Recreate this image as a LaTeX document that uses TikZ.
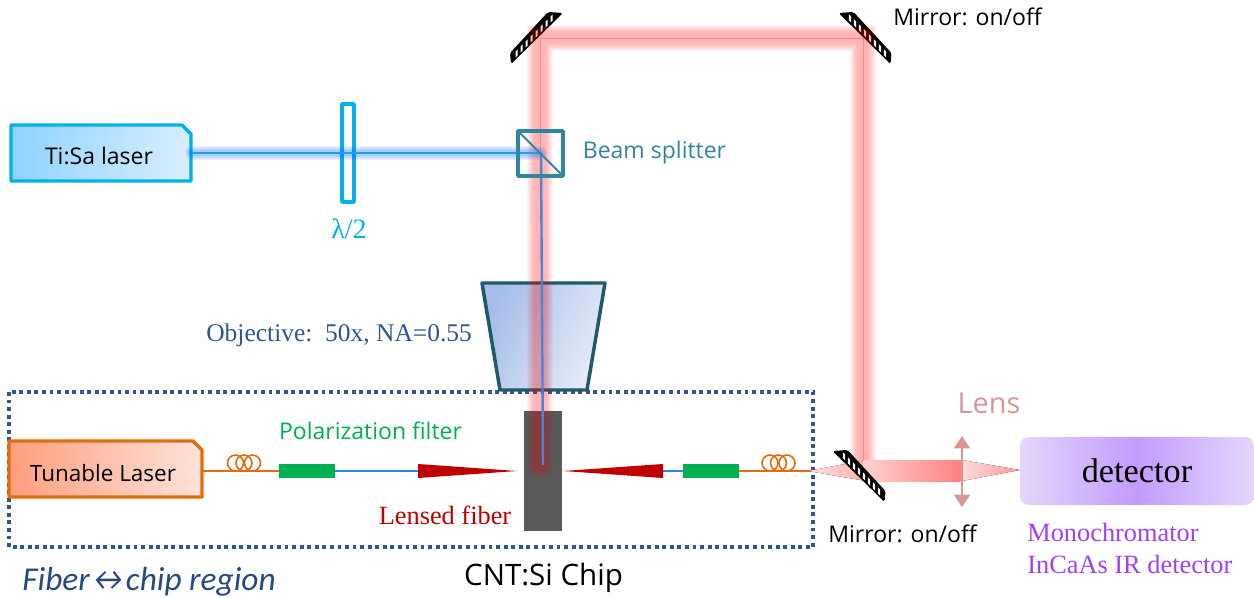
\documentclass[tikz,border=0pt]{standalone}
\usepackage{fontspec}
\setmainfont{Liberation Serif}
\setsansfont{Open Sans}
\newfontfamily\calibri{Carlito}
\usetikzlibrary{arrows.meta}
\definecolor{skyline}{HTML}{00B0F0}
\definecolor{skylow}{HTML}{8FD3FE}
\definecolor{skyhigh}{HTML}{D9EEFE}
\definecolor{teal}{HTML}{31859C}
\definecolor{navy}{HTML}{2F5597}
\definecolor{objline}{HTML}{215968}
\definecolor{objlow}{HTML}{A5BDE8}
\definecolor{objhigh}{HTML}{E6ECF8}
\definecolor{fiberor}{HTML}{E46C0A}
\definecolor{laserlow}{HTML}{FF9E7E}
\definecolor{laserhigh}{HTML}{FFE3DB}
\definecolor{filtergr}{HTML}{00B050}
\definecolor{lensred}{HTML}{C00000}
\definecolor{lenspink}{HTML}{D99694}
\definecolor{purpletxt}{HTML}{A040FF}
\definecolor{detlow}{HTML}{E4D6FB}
\definecolor{dethigh}{HTML}{C39BFD}
\definecolor{chipgray}{HTML}{595959}
\definecolor{beamblue}{HTML}{4A86D8}
\definecolor{fiberblue}{HTML}{2F7FEF}
\tikzset{
    px/.style={line width=#1*0.567pt},
    sanslabel/.style={font=\sffamily\fontsize{13.1}{15}\selectfont, inner sep=0pt},
    seriflabel/.style={font=\fontsize{15}{17}\selectfont, inner sep=0pt},
    laserbox/.style={px=3.5, line join=round},
    filterbox/.style={fill=filtergr, minimum width=#1, minimum height=14*0.567pt, inner sep=0pt},
    coil/.style={draw=fiberor, px=1.6},
}
\newcommand{\mirrorpic}[3]{
    \begin{scope}[shift={(#1,#2)}, xscale=#3]
        \fill[black, rounded corners=1pt] (-26,15) -- (-25,26) -- (27,-25) -- (12,-26) -- cycle;
        \foreach \k in {0,...,7} {
            \fill[white] (-20.5+5*\k,13.5-5*\k) -- +(2.2,-2.2) -- +(2.2,3.8) -- +(0,6) -- cycle;
        }
    \end{scope}
}
\newcommand{\beamglow}[4]{
    \foreach \w in {#3} {
        \draw[#2, px=\w, opacity=#4, line cap=round] #1;
    }
}
\begin{document}
\begin{tikzpicture}[>=Stealth, x=0.02cm, y=-0.02cm]
    \useasboundingbox (0,0) rectangle (1254,598);
    \draw[navy, px=3.5, dash pattern=on 2.2pt off 2.1pt] (9,392) rectangle (813,547);

    \path[draw=objline, px=3.5, line join=round, left color=objlow, right color=objhigh, shading angle=65]
        (482,283) -- (605,283) -- (587,390) -- (500,390) -- cycle;

    \node[fill=chipgray, minimum width=38*0.567pt, minimum height=120*0.567pt, inner sep=0pt] (chip) at (543,471) {};

    \path[draw=skyline, laserbox, left color=skylow, right color=skyhigh]
        (11,125) -- (182,125) -- (191,134) -- (191,181) -- (11,181) -- cycle;
    \node[sanslabel] (tisa) at (99,156) {Ti:Sa laser};
    \coordinate (tisaout) at (192,153);
    \draw[skyline, px=3.5, fill=white, line join=round] (342,104) rectangle (354,202);
    \node[seriflabel, font=\fontsize{16}{18}\selectfont, skyline] (plate) at (349,229) {λ/2};

    \path[draw=fiberor, laserbox, left color=laserlow, right color=laserhigh]
        (9,441) -- (193,441) -- (202,450) -- (202,497) -- (9,497) -- cycle;
    \node[sanslabel, font=\sffamily\fontsize{12.8}{15}\selectfont] (tunable) at (103,473) {Tunable Laser};
    \coordinate (tunableout) at (203,471);

    \node[filterbox=56*0.567pt] (filterl) at (307,471) {};
    \node[filterbox=56*0.567pt] (filterr) at (711,471) {};
    \coordinate (tipl) at (517,471);
    \coordinate (tipr) at (563,471);
    \coordinate (basel) at (418,471);
    \coordinate (baser) at (663,471);
    \coordinate (fiberend) at (813,471);

    \draw[fiberor, px=1.8] (tunableout) -- (filterl.west);
    \draw[fiberor, px=1.8] (filterr.east) -- (fiberend);
    \draw[fiberblue, px=1.8] (filterl.east) -- (basel);
    \draw[fiberblue, px=1.8] (baser) -- (filterr.west);
    \foreach \cx in {235.5,244,252.5,770,778.5,787} {
        \draw[coil] (\cx,463) circle (8);
    }
    \fill[lensred] (418,464) -- (tipl) -- (418,478) -- cycle;
    \fill[lensred] (663,464) -- (tipr) -- (663,478) -- cycle;

    \mirrorpic{536}{38}{1}
    \mirrorpic{865.5}{38}{-1}

    \beamglow{(540,465) -- (540,38) -- (863,38) -- (863,465)}{red}{26,24,22,20,18,16,14,11}{0.045}
    \draw[lenspink, px=1] (540,153) -- (540,38) -- (863,38) -- (863,462);

    \beamglow{(192,153) -- (540,153)}{blue!60!cyan}{14,12,10,8,6}{0.08}
    \draw[skyline!60!beamblue, px=1.3] (tisaout) -- (540,153);
    \draw[beamblue, px=2.4] (541,153) -- (543,465);

    \draw[teal, px=3.5, line join=round] (518,131) rectangle (563,176);
    \draw[teal, px=1.8] (518,131) -- (563,176);
    \node[sanslabel, teal] (splitter) at (654.5,152.5) {Beam splitter};

    \fill[left color=red!12, right color=red!32] (808,471) -- (866,460) -- (866,481) -- cycle;
    \fill[left color=red!18, right color=red!50] (863,460) rectangle (962,481);
    \fill[left color=red!14, right color=red!40] (962,460) -- (1020,470) -- (962,481) -- cycle;
    \draw[lenspink, px=2.2, {Triangle[width=9pt,length=7pt]}-{Triangle[width=9pt,length=7pt]}] (962,436) -- (962,507);

    \mirrorpic{859.5}{476}{-1}

    \path[rounded corners=5pt, left color=detlow, right color=detlow, middle color=dethigh] (1020,437) rectangle (1254,505);
    \node[font=\fontsize{19.5}{22}\selectfont, inner sep=0pt] (detector) at (1137,471) {detector};
    \node[seriflabel, purpletxt, anchor=west] (mono) at (1027,532) {Monochromator};
    \node[seriflabel, purpletxt, anchor=west] (incaas) at (1027,564) {InCaAs IR detector};

    \node[sanslabel, anchor=west] (mirrortop) at (893,17) {Mirror: on/off};
    \node[sanslabel, anchor=west] (mirrorbot) at (828,534) {Mirror: on/off};
    \node[font=\sffamily\fontsize{16.4}{18}\selectfont, lenspink, inner sep=0pt] (lens) at (989,403) {Lens};
    \node[seriflabel, font=\fontsize{14.5}{17}\selectfont, navy, anchor=west] (objective) at (206,335.5) {Objective:\, 50x, NA=0.55};
    \node[sanslabel, filtergr] (polar) at (370.5,431) {Polarization filter};
    \node[seriflabel, lensred] (lensed) at (445,515) {Lensed fiber};
    \node[sanslabel, font=\sffamily\fontsize{16.8}{19}\selectfont] (chiplabel) at (543.5,578) {CNT:Si Chip};
    \node[font=\calibri\itshape\fontsize{19}{21}\selectfont, navy!85!black, inner sep=0pt, anchor=west] (region) at (22,582) {Fiber\kern-2pt↔\kern-2pt chip region};
\end{tikzpicture}
\end{document}
